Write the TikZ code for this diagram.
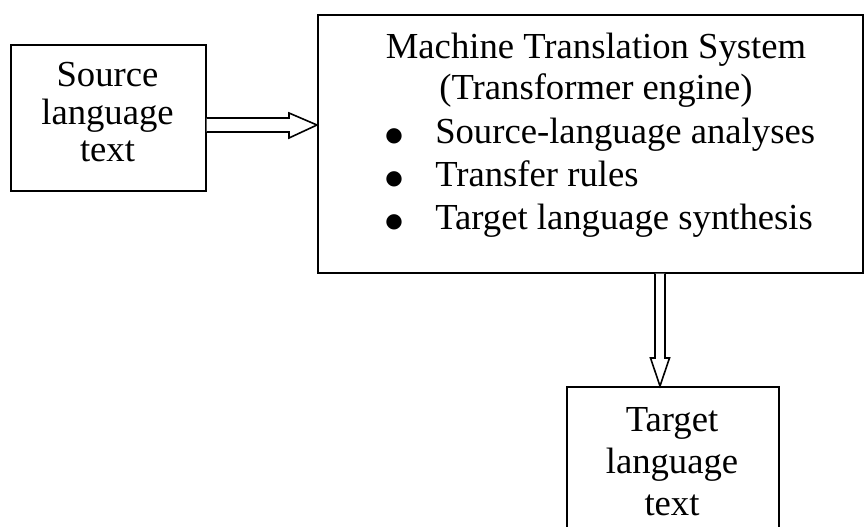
\documentclass[tikz,border=0pt]{standalone}
\usepackage{fontspec}
\setmainfont{Liberation Serif}
\newfontfamily\symfont{DejaVu Sans}
\usetikzlibrary{calc}
\begin{document}
\begin{tikzpicture}[x=0.75pt,y=-0.75pt,
  box/.style={draw,line width=1.2pt,inner sep=0pt,anchor=north west},
  txt/.style={font=\fontsize{27.5}{32}\selectfont,inner sep=0pt,anchor=base},
  itm/.style={txt,anchor=base west},
  bul/.style={font=\symfont\fontsize{15}{18}\selectfont,inner sep=0pt,anchor=base},
  fatarrow/.style={draw,line width=1.2pt,fill=white,line join=miter}]
\clip (0,0) rectangle (864,527);
\useasboundingbox (0,0) rectangle (864,527);
% boxes
\node[box,minimum width=146.25pt,minimum height=109.5pt] (src) at (10,44) {};
\node[box,minimum width=408.75pt,minimum height=193.5pt] (mts) at (317,14) {};
\node[box,minimum width=159pt,minimum height=160pt] (tgt) at (566,386) {};
% source text
\node[txt] (s1) at (107.5,87) {Source};
\node[txt] (s2) at (107.5,125) {language};
\node[txt] (s3) at (107.5,162) {text};
% main text
\node[txt] (m1) at (596,59) {Machine Translation System};
\node[txt] (m2) at (596,100) {(Transformer engine)};
\node[bul] (b1) at (394,142) {●};
\node[bul] (b2) at (394,185) {●};
\node[bul] (b3) at (394,228) {●};
\node[itm] (i1) at (435,144) {Source-language analyses};
\node[itm] (i2) at (435,187) {Transfer rules};
\node[itm] (i3) at (435,230) {Target language synthesis};
% target text
\node[txt] (t1) at (672,431) {Target};
\node[txt] (t2) at (672,473) {language};
\node[txt] (t3) at (672,515) {text};
% arrow 1: src -> mts
\coordinate (a1s) at (src.east |- 0,125);
\coordinate (a1e) at (mts.west |- 0,125);
\draw[fatarrow] ($(a1s)+(0,-7)$) -- ($(a1e)+(-28,-7)$) -- ($(a1e)+(-28,-12)$) -- (a1e)
  -- ($(a1e)+(-28,13)$) -- ($(a1e)+(-28,7)$) -- ($(a1s)+(0,7)$);
% arrow 2: mts -> tgt
\coordinate (a2s) at (mts.south -| 660,0);
\coordinate (a2e) at (tgt.north -| 660,0);
\draw[fatarrow] ($(a2s)+(-5,0)$) -- ($(a2e)+(-5,-28)$) -- ($(a2e)+(-9.5,-28)$) -- (a2e)
  -- ($(a2e)+(9.5,-28)$) -- ($(a2e)+(5,-28)$) -- ($(a2s)+(5,0)$);
\end{tikzpicture}
\end{document}
